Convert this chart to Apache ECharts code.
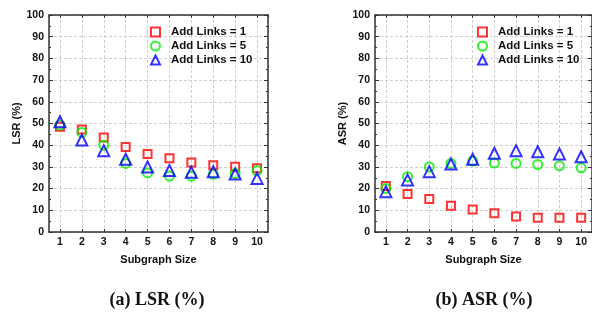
<!DOCTYPE html>
<html>
<head>
<meta charset="utf-8">
<script src="https://cdn.jsdelivr.net/npm/echarts@6/dist/echarts.min.js"></script>
<style>
  html, body { margin: 0; padding: 0; background: #fff; }
  #chart { width: 592px; height: 312px; }
</style>
</head>
<body>
<div id="chart"></div>
<script>
// subgraph sizes on the x axis
const sizes = [1, 2, 3, 4, 5, 6, 7, 8, 9, 10]
const seriesNames = ['Add Links = 1', 'Add Links = 5', 'Add Links = 10']

// LSR (%)
const lsrLinks1 = [48.5, 47.2, 43.6, 39.2, 36, 34, 32, 30.8, 30.1, 29.4]
const lsrLinks5 = [49.3, 45.9, 40, 31.6, 27.2, 25.8, 25.7, 26.6, 27, 28.3]
const lsrLinks10 = [50.8, 42.4, 37.5, 33.5, 30, 28.3, 27.5, 27.8, 26.7, 24.7]

// ASR (%)
const asrLinks1 = [21.2, 17.5, 15.2, 12.1, 10.4, 8.6, 7.2, 6.6, 6.6, 6.6]
const asrLinks5 = [20.1, 25.5, 30, 31.6, 32.7, 31.8, 31.6, 31.1, 30.5, 29.6]
const asrLinks10 = [18.6, 24, 27.8, 31.3, 33.5, 36.3, 37.5, 37, 36, 34.7]

const yTicks = { min: 0, max: 100, interval: 10 }

const chart = echarts.init(document.getElementById('chart'))

const frameColor = '#333'
const labelFont = { color: '#111', fontWeight: 'bold', fontSize: 10.5, fontFamily: 'Liberation Sans' }
const nameFont = { color: '#111', fontWeight: 'bold', fontSize: 11, fontFamily: 'Liberation Sans' }

function xAxisFor(gridIndex, position) {
  const main = position === 'bottom'
  return {
    type: 'value',
    gridIndex: gridIndex,
    position: position,
    min: 0.5,
    max: 10.5,
    splitNumber: 10,
    name: main ? 'Subgraph Size' : '',
    nameLocation: 'middle',
    nameGap: 22,
    nameTextStyle: nameFont,
    axisLine: { show: true, onZero: false, lineStyle: { color: frameColor, width: 1.5 } },
    axisTick: { show: true, inside: true, length: 3, lineStyle: { color: frameColor } },
    axisLabel: {
      show: main,
      margin: 5,
      showMinLabel: false,
      showMaxLabel: false,
      formatter: v => (Number.isInteger(v) ? String(v) : ''),
      ...labelFont
    },
    splitLine: {
      show: main,
      lineStyle: { color: '#cfcfcf', type: [3, 2], width: 1 }
    }
  }
}

function yAxisFor(gridIndex, position, title) {
  const main = position === 'left'
  return {
    type: 'value',
    gridIndex: gridIndex,
    position: position,
    min: yTicks.min,
    max: yTicks.max,
    interval: yTicks.interval,
    name: main ? title : '',
    nameLocation: 'middle',
    nameGap: 25,
    nameTextStyle: nameFont,
    axisLine: { show: true, onZero: false, lineStyle: { color: frameColor, width: 1.5 } },
    axisTick: { show: true, inside: true, length: 4, lineStyle: { color: frameColor } },
    minorTick: { show: true, splitNumber: 2, length: 2, lineStyle: { color: frameColor } },
    axisLabel: { show: main, margin: 5, ...labelFont },
    splitLine: {
      show: main,
      lineStyle: { color: '#cfcfcf', type: [3, 2], width: 1 }
    }
  }
}

const markers = [
  { symbol: 'rect', size: 8, color: '#ff0000' },
  { symbol: 'circle', size: 9, color: '#00ee00' },
  { symbol: 'triangle', size: 11, color: '#0000ff' }
]

function scatterFor(gridIdx, values, k) {
  const m = markers[k]
  return {
    name: seriesNames[k],
    type: 'scatter',
    xAxisIndex: gridIdx * 2,
    yAxisIndex: gridIdx * 2,
    symbol: m.symbol,
    symbolSize: m.size,
    itemStyle: { color: 'rgba(255,255,255,0)', borderColor: m.color, borderWidth: 2 },
    data: sizes.map((s, i) => [s, values[i]])
  }
}

function legendFor(left) {
  return {
    data: seriesNames,
    orient: 'vertical',
    left: left,
    top: 26,
    padding: 0,
    itemWidth: 9,
    itemHeight: 9,
    itemGap: 2,
    selectedMode: false,
    textStyle: {
      color: '#111', fontWeight: 'bold', fontSize: 11.5, fontFamily: 'Liberation Sans',
      padding: [0, 0, 0, 6]
    }
  }
}

const captionFont = { color: '#111', fontWeight: 'bold', fontSize: 18, fontFamily: 'Liberation Serif' }

const option = {
  animation: false,
  backgroundColor: '#fff',
  title: [
    { text: '(a) LSR (%)', left: 157, top: 291, padding: 0, textAlign: 'center', textStyle: captionFont },
    { text: '(b) ASR (%)', left: 484, top: 291, padding: 0, textAlign: 'center', textStyle: captionFont }
  ],
  legend: [legendFor(150), legendFor(477)],
  grid: [
    { left: 49, top: 15, width: 219, height: 217 },
    { left: 375, top: 15, width: 219, height: 217 }
  ],
  xAxis: [
    xAxisFor(0, 'bottom'), xAxisFor(0, 'top'),
    xAxisFor(1, 'bottom'), xAxisFor(1, 'top')
  ],
  yAxis: [
    yAxisFor(0, 'left', 'LSR (%)'), yAxisFor(0, 'right', ''),
    yAxisFor(1, 'left', 'ASR (%)'), yAxisFor(1, 'right', '')
  ],
  series: [
    scatterFor(0, lsrLinks1, 0),
    scatterFor(0, lsrLinks5, 1),
    scatterFor(0, lsrLinks10, 2),
    scatterFor(1, asrLinks1, 0),
    scatterFor(1, asrLinks5, 1),
    scatterFor(1, asrLinks10, 2)
  ]
}

chart.setOption(option)
</script>
</body>
</html>
